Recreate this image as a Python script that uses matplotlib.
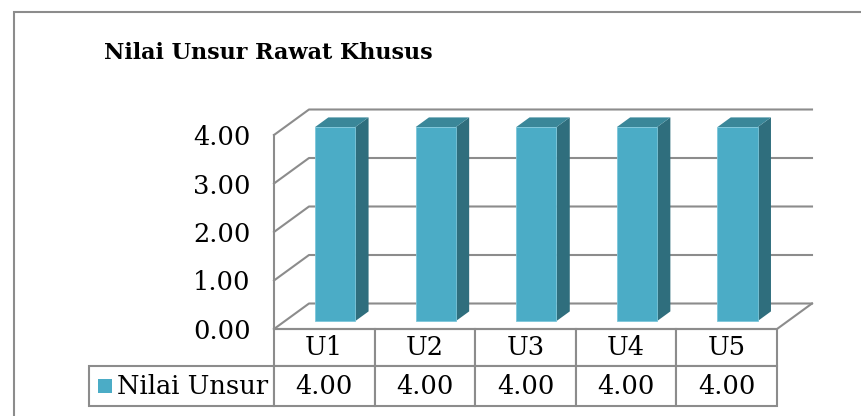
import matplotlib
matplotlib.use('Agg')
import matplotlib.pyplot as plt
from matplotlib.patches import Rectangle, Polygon
from matplotlib.table import Table

# data
categories = ['U1', 'U2', 'U3', 'U4', 'U5']
nilai_unsur = [4.00, 4.00, 4.00, 4.00, 4.00]
series_name = 'Nilai Unsur'
y_ticks = [0, 1, 2, 3, 4]
title = 'Nilai Unsur Rawat Khusus'

W, H = 862, 416
grid_col = '#8c8c8c'
bar_front = '#4bacc6'
bar_side = '#2f6e7d'
bar_top = '#3a8799'
serif = 'DejaVu Serif'

fig = plt.figure(figsize=(W / 100, H / 100), dpi=100)
# front plane of the 3d box
ax = fig.add_axes([274 / W, (H - 329) / H, 503 / W, 194 / H])
n = len(categories)
ax.set_xlim(-0.5, n - 0.5)
ax.set_ylim(0, 4)
ax.patch.set_visible(False)
for s in ax.spines.values():
    s.set_visible(False)
ax.set_xticks([])
ax.set_yticks(y_ticks)
ax.set_yticklabels([f'{t:.2f}' for t in y_ticks], fontsize=18.5, family=serif)
ax.tick_params(axis='y', length=0, pad=17)

# depth vector in data units
DX = 35 / 503 * n
DY = 25.5 / 194 * 4
x0, x1 = -0.5, n - 0.5

line_kw = dict(color=grid_col, lw=1.5, clip_on=False, zorder=1)
for t in y_ticks:
    ax.plot([x0, x0 + DX, x1 + DX], [t, t + DY, t + DY], **line_kw)
ax.plot([x0, x0], [0, y_ticks[-1]], **line_kw)
ax.plot([x0, x1, x1 + DX], [0, 0, DY], **line_kw)

# bars (pseudo 3d)
d0, d1 = 0.31, 0.69
bw = 0.4
for i, v in enumerate(nilai_unsur):
    xl, xr = i - bw / 2, i + bw / 2
    side = Polygon([(xr + d0 * DX, d0 * DY), (xr + d1 * DX, d1 * DY),
                    (xr + d1 * DX, v + d1 * DY), (xr + d0 * DX, v + d0 * DY)],
                   closed=True, facecolor=bar_side, edgecolor='none', clip_on=False, zorder=3)
    top = Polygon([(xl + d0 * DX, v + d0 * DY), (xr + d0 * DX, v + d0 * DY),
                   (xr + d1 * DX, v + d1 * DY), (xl + d1 * DX, v + d1 * DY)],
                  closed=True, facecolor=bar_top, edgecolor='none', clip_on=False, zorder=3)
    front = Rectangle((xl + d0 * DX, d0 * DY), bw, v, facecolor=bar_front,
                      edgecolor='#7cc6da', lw=0.6, clip_on=False, zorder=4)
    ax.add_patch(side)
    ax.add_patch(top)
    ax.add_patch(front)

# data table under the chart (bbox covers the value grid, label column sits left of it)
lab_w = 185 / 503
tbl = Table(ax, bbox=[0, -77 / 194, 1, 77 / 194])
for j, c in enumerate(categories):
    tbl.add_cell(0, j, width=1 / n, height=37, text=c, loc='center')
tbl.add_cell(1, -1, width=lab_w, height=40, text=series_name, loc='right')
for j, v in enumerate(nilai_unsur):
    tbl.add_cell(1, j, width=1 / n, height=40, text=f'{v:.2f}', loc='center')
tbl.auto_set_font_size(False)
for key, cell in tbl.get_celld().items():
    cell.set_edgecolor(grid_col)
    cell.set_linewidth(1.5)
    cell.get_text().set_fontsize(18.5)
    cell.get_text().set_fontfamily(serif)
tbl[1, -1].PAD = 0.03
ax.add_table(tbl)

# legend key in the table
ax.add_patch(Rectangle((-176 / 503, -64 / 194), 14 / 503, 14 / 194, transform=ax.transAxes,
                       facecolor=bar_front, edgecolor='none', clip_on=False))

fig.text(268 / W, 1 - 53 / H, title, ha='center', va='center', fontsize=16,
         fontweight='bold', family=serif)

# chart area border (runs off the image on right and bottom)
fig.add_artist(Rectangle((14 / W, -0.5), 2, 1.5 - 12 / H, transform=fig.transFigure,
                         fill=False, edgecolor=grid_col, lw=1.5))

fig.savefig('out.png', dpi=100)
